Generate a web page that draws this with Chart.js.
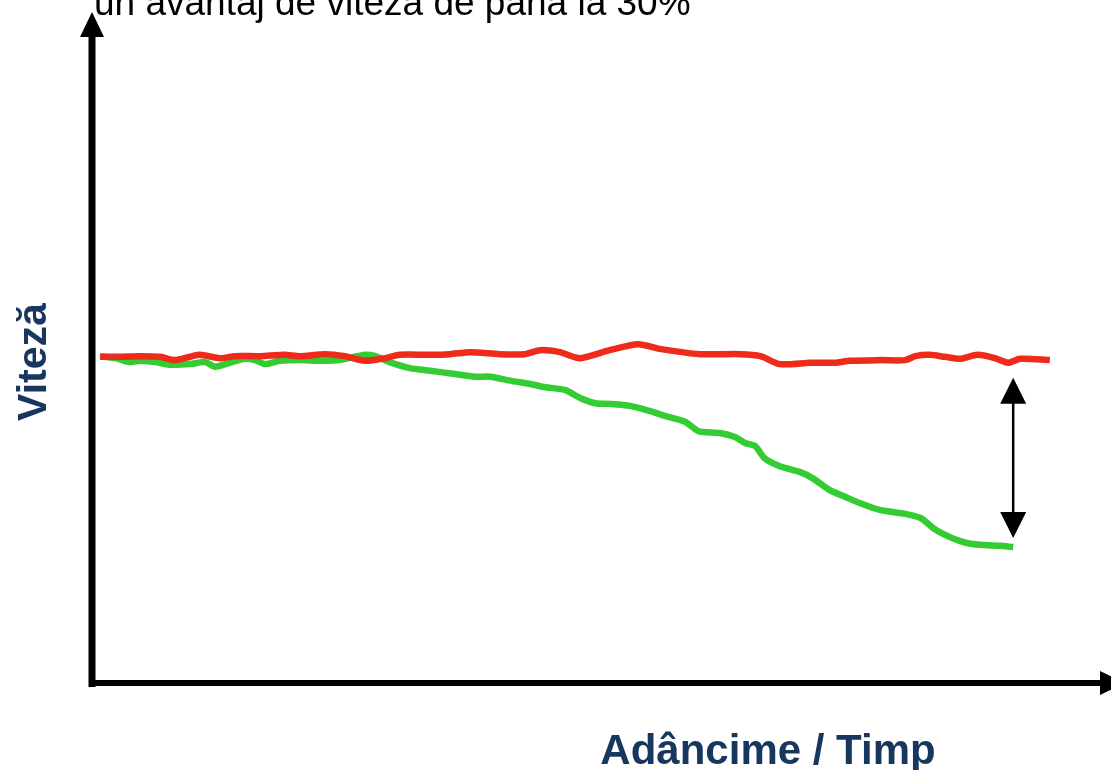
<!DOCTYPE html>
<html>
<head>
<meta charset="utf-8">
<script src="https://cdn.jsdelivr.net/npm/chart.js@4/dist/chart.umd.min.js"></script>
<style>
  body { margin: 0; background: #fff; }
  #wrap { width: 1111px; height: 770px; position: relative; }
</style>
</head>
<body>
<div id="wrap"><canvas id="speedChart"></canvas></div>
<script>
// Depth / time (0-100) and speed (0-100)
const redDepth = [0.8, 2.7, 4.7, 6.7, 8.1, 9.6, 10.6, 12.6, 14.0, 16.5, 18.9, 20.4, 22.9, 24.8, 26.8, 28.8, 30.2, 33.2, 35.1, 37.1, 40.0, 42.5, 44.0, 45.9, 47.9, 50.8, 53.6, 55.7, 59.7, 63.6, 65.6, 67.5, 70.5, 72.9, 74.4, 77.3, 79.8, 80.8, 82.2, 83.7, 85.2, 86.9, 88.6, 89.9, 91.1, 94.0];
const redSpeed = [49.2, 49.2, 49.3, 49.2, 48.7, 49.2, 49.5, 49.0, 49.3, 49.3, 49.5, 49.3, 49.6, 49.3, 48.6, 49.0, 49.5, 49.5, 49.6, 49.9, 49.6, 49.6, 50.2, 49.9, 49.0, 50.2, 51.1, 50.4, 49.6, 49.6, 49.3, 48.1, 48.3, 48.3, 48.6, 48.7, 48.7, 49.3, 49.5, 49.2, 48.9, 49.5, 49.0, 48.3, 48.9, 48.7];

const greenDepth = [0.8, 2.3, 3.7, 4.7, 6.2, 7.7, 9.6, 11.1, 12.1, 13.5, 15.0, 16.0, 17.0, 18.4, 20.4, 22.4, 24.3, 25.8, 26.8, 27.8, 29.2, 31.2, 33.2, 35.6, 37.6, 39.1, 41.0, 43.0, 44.5, 46.4, 47.9, 49.4, 50.8, 52.8, 54.8, 56.2, 58.2, 59.5, 61.6, 63.1, 64.1, 65.1, 66.0, 67.5, 69.5, 70.7, 72.4, 73.9, 75.4, 77.3, 79.8, 81.3, 82.7, 84.2, 85.2, 86.2, 87.6, 89.1, 90.4];
const greenSpeed = [49.3, 49.0, 48.4, 48.6, 48.4, 48.0, 48.1, 48.4, 47.7, 48.3, 48.9, 48.7, 48.1, 48.6, 48.7, 48.6, 48.7, 49.2, 49.5, 49.3, 48.4, 47.5, 47.1, 46.6, 46.2, 46.2, 45.6, 45.1, 44.6, 44.2, 43.0, 42.2, 42.1, 41.8, 41.0, 40.3, 39.4, 38.0, 37.7, 37.1, 36.2, 35.7, 33.9, 32.7, 31.8, 30.9, 29.1, 28.1, 27.1, 26.1, 25.5, 24.9, 23.2, 22.0, 21.4, 21.0, 20.8, 20.7, 20.5];

const titleText = "un avantaj de viteză de până la 30%";
const xLabel = "Adâncime / Timp";
const yLabel = "Viteză";

function toPoints(xs, ys) {
  return xs.map((x, i) => ({ x: x, y: ys[i] }));
}

function triangle(ctx, x, tipY, baseY, halfW) {
  ctx.beginPath();
  ctx.moveTo(x, tipY);
  ctx.lineTo(x - halfW, baseY);
  ctx.lineTo(x + halfW, baseY);
  ctx.closePath();
  ctx.fill();
}

// axes with arrows, labels, title and the gap arrow
const decorations = {
  id: "decorations",
  afterDraw(chart) {
    const ctx = chart.ctx;
    const area = chart.chartArea;
    const xs = chart.scales.x;
    const ys = chart.scales.y;
    ctx.save();

    // axes
    ctx.strokeStyle = "#000";
    ctx.fillStyle = "#000";
    ctx.lineWidth = 7;
    ctx.beginPath();
    ctx.moveTo(area.left, area.bottom + 4);
    ctx.lineTo(area.left, area.top + 14);
    ctx.stroke();
    triangle(ctx, area.left, area.top - 8, area.top + 17, 12);

    ctx.lineWidth = 6;
    ctx.beginPath();
    ctx.moveTo(area.left - 3, area.bottom);
    ctx.lineTo(area.right - 8, area.bottom);
    ctx.stroke();
    ctx.beginPath();
    ctx.moveTo(area.right + 14, area.bottom);
    ctx.lineTo(area.right - 11, area.bottom - 12);
    ctx.lineTo(area.right - 11, area.bottom + 12);
    ctx.closePath();
    ctx.fill();

    // gap arrow between the two curves at the end of the green line
    const last = greenDepth.length - 1;
    const ax = xs.getPixelForValue(greenDepth[last]);
    const topY = ys.getPixelForValue(redSpeed[redSpeed.length - 3]) + 15;
    const botY = ys.getPixelForValue(greenSpeed[last]) - 9;
    ctx.lineWidth = 2.5;
    ctx.beginPath();
    ctx.moveTo(ax, topY + 20);
    ctx.lineTo(ax, botY - 20);
    ctx.stroke();
    triangle(ctx, ax, topY, topY + 26, 13);
    triangle(ctx, ax, botY, botY - 26, 13);

    // title (cut off at the top edge)
    ctx.fillStyle = "#000";
    ctx.font = "37px 'Liberation Sans', Arial, sans-serif";
    ctx.textAlign = "left";
    ctx.textBaseline = "alphabetic";
    ctx.fillText(titleText, area.left + 2, 15);

    // axis titles
    ctx.fillStyle = "#17375E";
    ctx.font = "bold 42px 'Liberation Sans', Arial, sans-serif";
    ctx.textAlign = "center";
    ctx.fillText(xLabel, 768, 764);

    ctx.font = "bold 41px 'Liberation Sans', Arial, sans-serif";
    ctx.translate(46, 362);
    ctx.rotate(-Math.PI / 2);
    ctx.textBaseline = "alphabetic";
    ctx.fillText(yLabel, 0, 0);
    ctx.restore();
  }
};

function renderChart() {
  const ctx = document.getElementById("speedChart").getContext("2d");
  new Chart(ctx, {
    type: "line",
    data: {
      datasets: [
        {
          label: "red",
          data: toPoints(redDepth, redSpeed),
          borderColor: "#EE2A1A",
          borderWidth: 6.5,
          pointRadius: 0,
          tension: 0.25,
          borderJoinStyle: "round",
        },
        {
          label: "green",
          data: toPoints(greenDepth, greenSpeed),
          borderColor: "#33CC33",
          borderWidth: 6.5,
          pointRadius: 0,
          tension: 0.25,
          borderJoinStyle: "round",
        },
      ],
    },
    options: {
      responsive: true,
      maintainAspectRatio: false,
      animation: false,
      layout: { padding: { left: 92, right: 0, top: 20, bottom: 87 } },
      plugins: { legend: { display: false }, tooltip: { enabled: false } },
      scales: {
        x: { type: "linear", min: 0, max: 100, display: false },
        y: { type: "linear", min: 0, max: 100, display: false },
      },
    },
    plugins: [decorations],
  });
}

renderChart();
</script>
</body>
</html>
